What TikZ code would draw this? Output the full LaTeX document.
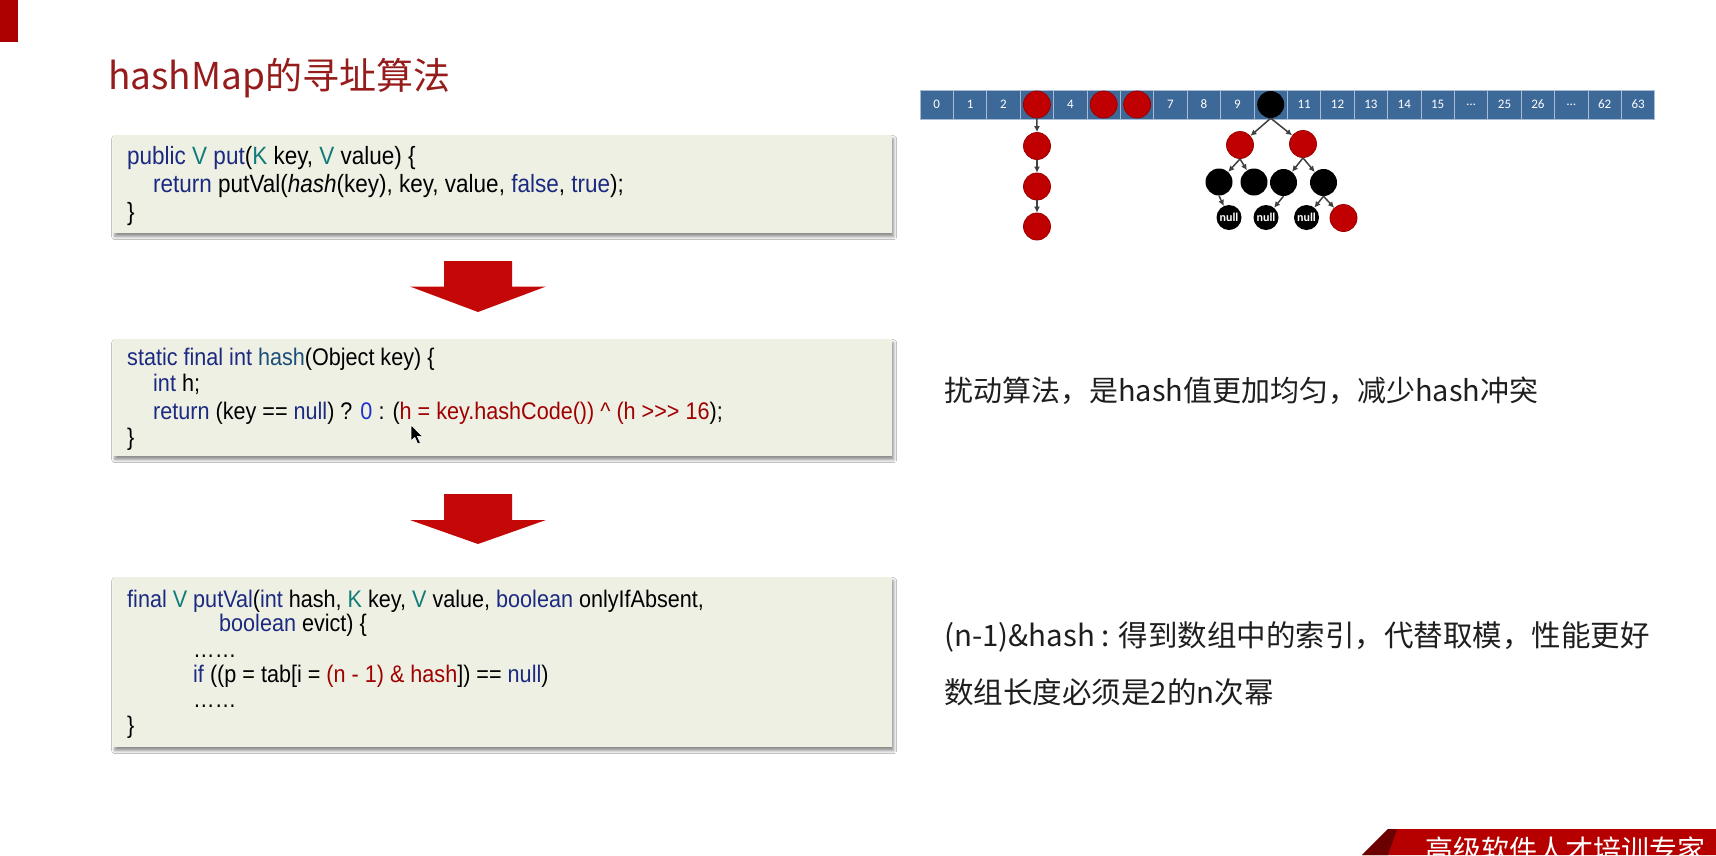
\documentclass[tikz,border=0pt]{standalone}
\usepackage{fontspec}
\setmainfont{Liberation Sans}
\newfontfamily\cjkfont{Noto Sans CJK SC}
\newfontfamily\codefont[FakeStretch=0.9]{Liberation Sans}
\newfontfamily\labelfont{Carlito}
\usetikzlibrary{arrows.meta,shadows.blur}

\definecolor{kwblue}{HTML}{1B2A80}
\definecolor{typeteal}{HTML}{107C78}
\definecolor{fnblue}{HTML}{1D4E7A}
\definecolor{exprred}{HTML}{A00000}
\definecolor{numblue}{HTML}{1F33C8}
\definecolor{codebg}{HTML}{EEF0E4}
\definecolor{titlered}{HTML}{961C1C}
\definecolor{blockred}{HTML}{C40808}
\definecolor{cellblue}{HTML}{3D6999}
\definecolor{celledge}{HTML}{A9BCD6}
\definecolor{nodered}{HTML}{C00000}
\definecolor{linkgray}{HTML}{404040}
\definecolor{bodytext}{HTML}{1E1E1E}

% code colouring
\newcommand\cKw[1]{\textcolor{kwblue}{#1}}
\newcommand\cTy[1]{\textcolor{typeteal}{#1}}
\newcommand\cFn[1]{\textcolor{fnblue}{#1}}
\newcommand\cRd[1]{\textcolor{exprred}{#1}}
\newcommand\cNum[1]{\textcolor{numblue}{#1}}
% gap marker shown inside skipped array cells
\newcommand\cellgap{\ldots}

\begin{document}
\begin{tikzpicture}[x=1pt,y=-1pt,
  codebox/.style={fill=codebg, anchor=north west, inner sep=0pt,
    minimum width=779pt,
    blur shadow={shadow xshift=1.5pt, shadow yshift=-3.5pt,
      shadow blur radius=3pt, shadow opacity=45}},
  code/.style={anchor=base west, inner sep=0pt,
    font=\codefont\fontsize{24}{28}\selectfont},
  bigcode/.style={code, font=\codefont\fontsize{25}{29}\selectfont},
  note/.style={anchor=base west, inner sep=0pt, text=bodytext,
    font=\cjkfont\fontsize{29.5}{34}\selectfont},
  cell/.style={draw=celledge, fill=cellblue, line width=1pt,
    minimum width=33.4pt, minimum height=29pt, inner sep=0pt,
    text=white, font=\labelfont\fontsize{13}{15}\selectfont},
  rednode/.style={circle, fill=nodered, draw=nodered!80!black,
    line width=0.8pt, minimum size=27pt, inner sep=0pt},
  blacknode/.style={circle, fill=black, minimum size=27pt, inner sep=0pt},
  nullnode/.style={circle, fill=black, minimum size=25pt, inner sep=0pt,
    text=white, font=\labelfont\bfseries\fontsize{12}{14}\selectfont},
  link/.style={draw=linkgray, line width=1.5pt,
    -{Latex[length=6pt,width=6pt]}},
  bigarrow/.style={fill=blockred}
]
\useasboundingbox (0,0) rectangle (1716,855);
\fill[white] (0,0) rectangle (1716,855);

% corner tab
\fill[nodered!90!black] (0,0) rectangle (18,42);

% title
\node[anchor=base west, inner sep=0pt, text=titlered,
  font=\cjkfont\fontsize{37}{42}\selectfont] (title) at (108,89)
  {hashMap的寻址算法};

% ---------- code box 1 ----------
\node[codebox, minimum height=98pt] (box1) at (113,135) {};
\node[bigcode] (b1l1) at (127,164)
  {\cKw{public} \cTy{V} \cKw{put}(\cTy{K} key, \cTy{V} value) \{};
\node[bigcode] (b1l2) at (153,192)
  {\cKw{return} putVal(\textit{hash}(key), key, value, \cKw{false}, \cKw{true});};
\node[bigcode] (b1l3) at (127,220) {\}};

% ---------- code box 2 ----------
\node[codebox, minimum height=117pt] (box2) at (113,339) {};
\node[code] (b2l1) at (127,365)
  {\cKw{static final int} \cFn{hash}(Object key) \{};
\node[code] (b2l2) at (153,391) {\cKw{int} h;};
\node[code] (b2l3) at (153,419)
  {\cKw{return} (key == \cKw{null}) ? \cNum{0} : (\cRd{h = key.hashCode()) \textasciicircum{} (h >{}>{}> 16});};
\node[code] (b2l4) at (127,445) {\}};

% mouse pointer
\coordinate (ptr) at (411,425);
\filldraw[fill=black, draw=white, line width=0.6pt, line join=round]
  (ptr) -- ++(0,16) -- ++(3.8,-3.6) -- ++(3,6.6) -- ++(2.6,-1.1)
  -- ++(-3,-6.5) -- ++(5.2,0) -- cycle;

% ---------- code box 3 ----------
\node[codebox, minimum height=170pt] (box3) at (113,577) {};
\node[code] (b3l1) at (127,607)
  {\cKw{final} \cTy{V} \cKw{putVal}(\cKw{int} hash, \cTy{K} key, \cTy{V} value, \cKw{boolean} onlyIfAbsent,};
\node[code] (b3l2) at (219,631) {\cKw{boolean} evict) \{};
\node[code] (b3l3) at (193,657) {……};
\node[code] (b3l4) at (193,682)
  {\cKw{if} ((p = tab[i = \cRd{(n - 1) \& hash}]) == \cKw{null})};
\node[code] (b3l5) at (193,707) {……};
\node[code] (b3l6) at (127,733) {\}};

% ---------- block arrows between the boxes ----------
\coordinate (ar1) at (478,261);
\fill[bigarrow] (ar1) ++(-34,0) -- ++(68,0) -- ++(0,25.5) -- ++(34,0)
  -- ++(-68,25.5) -- ++(-68,-25.5) -- ++(34,0) -- cycle;
\coordinate (ar2) at (478,494);
\fill[bigarrow] (ar2) ++(-34,0) -- ++(68,0) -- ++(0,26) -- ++(34,0)
  -- ++(-68,24) -- ++(-68,-24) -- ++(34,0) -- cycle;

% ---------- notes ----------
\node[note, font=\cjkfont\fontsize{29}{34}\selectfont] (n1) at (944,401)
  {扰动算法，是hash值更加均匀，减少hash冲突};
\node[note] (n2) at (944,646) {(n-1)\&hash : 得到数组中的索引，代替取模，性能更好};
\node[note] (n3) at (944,703) {数组长度必须是2的n次幂};

% ---------- bucket array ----------
\foreach \lab [count=\i from 0] in
  {0,1,2,{},4,{},{},7,8,9,{},11,12,13,14,15,\cellgap,25,26,\cellgap,62,63}
  \node[cell] (cell\i) at ({920+33.4*(\i+0.5)},104.5) {\lab};

% linked list hanging from bucket 3
\node[rednode] (c0) at (cell3) {};
\node[rednode] (c1) at (1037,146) {};
\node[rednode] (c2) at (1037,186.5) {};
\node[rednode] (c3) at (1037,226.5) {};
\draw[link] (c0.south) -- (c1.north);
\draw[link] (c1.south) -- (c2.north);
\draw[link] (c2.south) -- (c3.north);

% single entries in buckets 5 and 6
\node[rednode] (s5) at (cell5) {};
\node[rednode] (s6) at (cell6) {};

% red-black tree in bucket 10
\node[blacknode] (t0) at (cell10) {};
\node[rednode] (ta) at (1240,145) {};
\node[rednode] (tb) at (1303,144) {};
\node[blacknode] (tc) at (1219,182) {};
\node[blacknode] (td) at (1254,182) {};
\node[blacknode] (te) at (1283.5,182.5) {};
\node[blacknode] (tf) at (1323.5,182.5) {};
\node[nullnode] (tg) at (1229,217.5) {null};
\node[nullnode] (th) at (1266,217.5) {null};
\node[nullnode] (ti) at (1306.5,217.5) {null};
\node[rednode] (tj) at (1343.5,218) {};
\draw[link] (t0.south) -- (ta);
\draw[link] (t0.south) -- (tb);
\draw[link] (ta.south) -- (tc);
\draw[link] (ta.south) -- (td);
\draw[link] (tb.south) -- (te);
\draw[link] (tb.south) -- (tf);
\draw[link] (tc.south) -- (tg);
\draw[link] (te.south) -- (th);
\draw[link] (tf.south) -- (ti);
\draw[link] (tf.south) -- (tj);

% ---------- footer banner ----------
\fill[nodered!95!black] (1388,829) -- (1716,829) -- (1716,855) -- (1362,855) -- cycle;
\fill[nodered!55!black] (1388,829) -- (1397,829) -- (1388,855) -- (1362,855) -- cycle;
\node[anchor=base west, inner sep=0pt, text=white,
  font=\cjkfont\fontsize{28}{32}\selectfont] (slogan) at (1425,860)
  {高级软件人才培训专家};
\end{tikzpicture}
\end{document}
